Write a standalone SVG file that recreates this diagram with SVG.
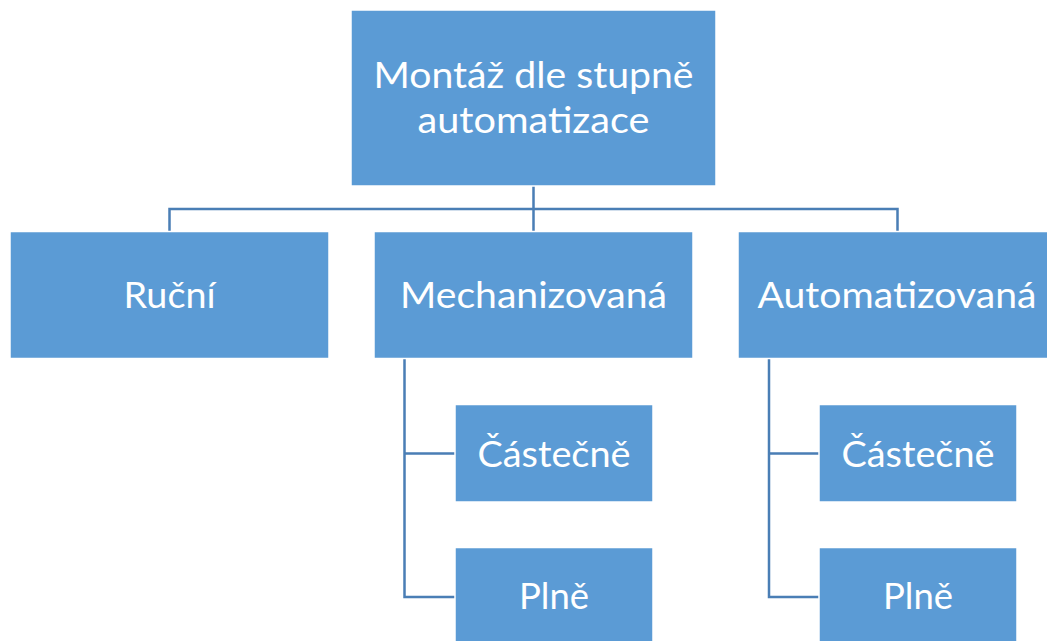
<svg xmlns="http://www.w3.org/2000/svg" width="1047" height="641" viewBox="0 0 1047 641">
<style>
.box{fill:#5B9BD5;stroke:#FFFFFF;stroke-width:1.5}
.lbl{fill:#FFFFFF;font-family:Lato,"Open Sans","Liberation Sans",sans-serif;font-size:37px;text-anchor:middle}
.con{fill:none;stroke:#4A7EB5;stroke-width:2.5}
</style>
<rect width="1047" height="641" fill="#FFFFFF"/>
<g id="connectors">
<path class="con" d="M533.5 186 V231 M169.5 231 V209 H897.5 V231"/>
<path class="con" d="M404.5 359 V597 H455 M404.5 453.5 H455"/>
<path class="con" d="M769 359 V597 H819 M769 453.5 H819"/>
</g>
<g id="root">
<rect class="box" x="351" y="10" width="365" height="176"/>
<text class="lbl"><tspan x="533.5" y="88" textLength="320" lengthAdjust="spacingAndGlyphs">Montáž dle stupně</tspan><tspan x="533.5" y="133" textLength="232" lengthAdjust="spacingAndGlyphs">automatizace</tspan></text>
</g>
<g id="rucni">
<rect class="box" x="10" y="231.5" width="319" height="127"/>
<text class="lbl" x="169.5" y="308" textLength="92" lengthAdjust="spacingAndGlyphs">Ruční</text>
</g>
<g id="mechanizovana">
<rect class="box" x="374" y="231.5" width="319" height="127"/>
<text class="lbl" x="533.5" y="308" textLength="267" lengthAdjust="spacingAndGlyphs">Mechanizovaná</text>
</g>
<g id="automatizovana">
<rect class="box" x="738" y="231.5" width="319" height="127"/>
<text class="lbl" x="897" y="308" textLength="279" lengthAdjust="spacingAndGlyphs">Automatizovaná</text>
</g>
<g id="mech-castecne">
<rect class="box" x="455" y="404.5" width="198" height="97.5"/>
<text class="lbl" x="554" y="467" textLength="153" lengthAdjust="spacingAndGlyphs">Částečně</text>
</g>
<g id="mech-plne">
<rect class="box" x="455" y="547.5" width="198" height="110"/>
<text class="lbl" x="554" y="609" textLength="70" lengthAdjust="spacingAndGlyphs">Plně</text>
</g>
<g id="auto-castecne">
<rect class="box" x="819" y="404.5" width="198" height="97.5"/>
<text class="lbl" x="918" y="467" textLength="153" lengthAdjust="spacingAndGlyphs">Částečně</text>
</g>
<g id="auto-plne">
<rect class="box" x="819" y="547.5" width="198" height="110"/>
<text class="lbl" x="918" y="609" textLength="70" lengthAdjust="spacingAndGlyphs">Plně</text>
</g>
</svg>
